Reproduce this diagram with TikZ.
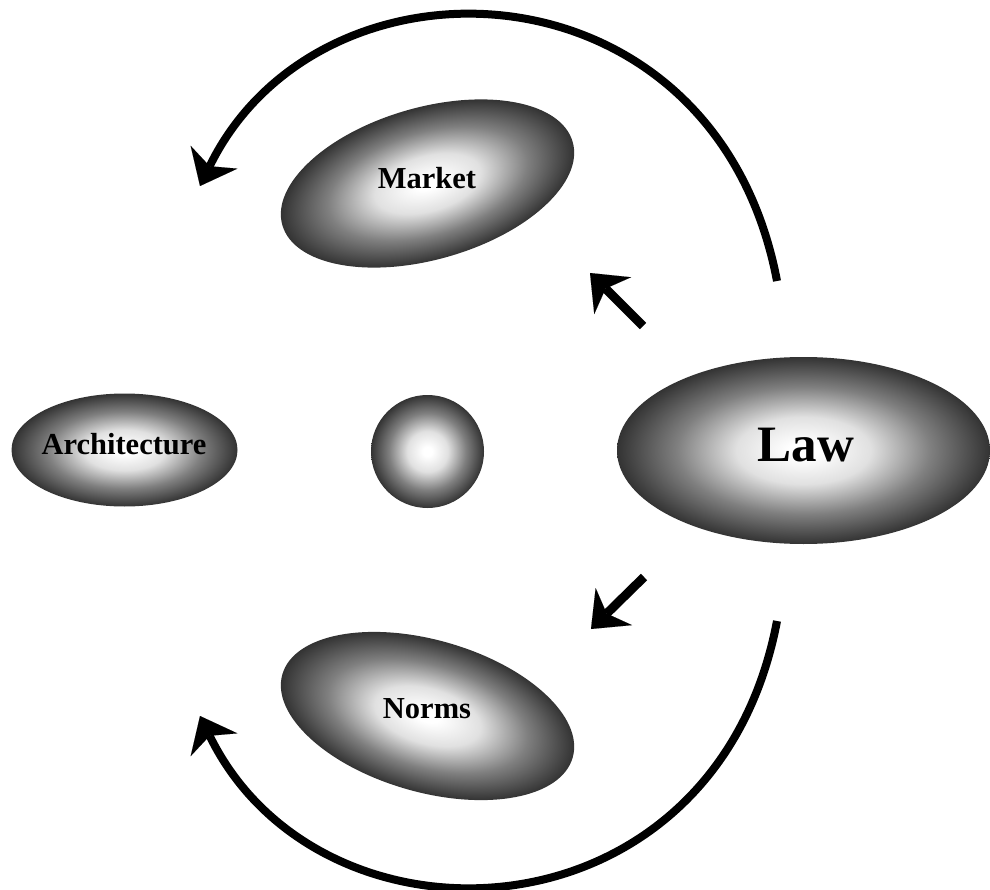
\documentclass[tikz,border=0pt]{standalone}
\usepackage{fontspec}
\setmainfont{Liberation Serif}
\usetikzlibrary{shapes.geometric,arrows.meta}
\pgfdeclareradialshading{ballshade}{\pgfpoint{0bp}{0bp}}{%
  color(0bp)=(white); color(2bp)=(white); color(9bp)=(black!12);
  color(17bp)=(black!50); color(25bp)=(black!80); color(50bp)=(black!80)}
\begin{document}
\begin{tikzpicture}[x=1pt,y=-1pt,
  blob/.style={ellipse, inner sep=0pt, draw=none, shade, shading=ballshade},
  lbl/.style={font=\bfseries\fontsize{30.5}{36}\selectfont, anchor=base, inner sep=0pt},
  biglbl/.style={font=\bfseries\fontsize{51}{60}\selectfont, anchor=base, inner sep=0pt},
  tipstyle/.style={-{Stealth[length=32pt,width=52pt,inset=10pt,line width=0.01pt]}},
  bigarrow/.style={line width=8pt, tipstyle},
  smallarrow/.style={line width=9pt, tipstyle}]
\useasboundingbox (0,0) rectangle (990,890);
\begin{scope}[transform canvas={rotate around={16:(427.5,183.5)}}]
  \node[blob, minimum width=302pt, minimum height=152pt] (market) at (427.5,183.5) {};
\end{scope}
\begin{scope}[transform canvas={rotate around={-16:(427.5,716)}}]
  \node[blob, minimum width=302pt, minimum height=152pt] (norms) at (427.5,716) {};
\end{scope}
\node[blob, minimum width=226pt, minimum height=113pt] (arch) at (124.5,450) {};
\node[blob, circle, minimum size=113pt] (core) at (427.5,451.5) {};
\node[blob, minimum width=373pt, minimum height=187pt] (law) at (803.5,450.5) {};
\node[lbl] (marketlbl) at (427,189) {Market};
\node[lbl] (normslbl) at (427,718) {Norms};
\node[lbl] (archlbl) at (124,454) {Architecture};
\node[biglbl] (lawlbl) at (806,461.5) {Law};
\coordinate (ta) at (777,281);
\coordinate (tb) at (200,186);
\draw[bigarrow] (ta) .. controls (715,-45) and (320,-60) .. (tb);
\coordinate (ba) at (777,621);
\coordinate (bb) at (200,716);
\draw[bigarrow] (ba) .. controls (715,947) and (320,962) .. (bb);
\coordinate (ua) at (643,326);
\coordinate (ub) at (590,273);
\draw[smallarrow] (ua) -- (ub);
\coordinate (la) at (644,577);
\coordinate (lb) at (591,629);
\draw[smallarrow] (la) -- (lb);
\end{tikzpicture}
\end{document}
